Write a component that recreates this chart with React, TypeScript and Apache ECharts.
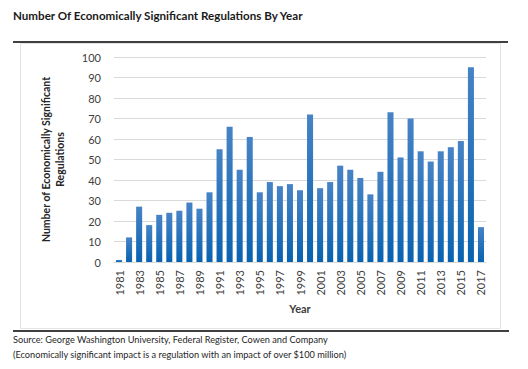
import React, { useEffect, useRef } from "react";
import * as echarts from "echarts";

const years: string[] = [
  "1981","1982","1983","1984","1985","1986","1987","1988","1989","1990",
  "1991","1992","1993","1994","1995","1996","1997","1998","1999","2000",
  "2001","2002","2003","2004","2005","2006","2007","2008","2009","2010",
  "2011","2012","2013","2014","2015","2016","2017",
];
const regulations: number[] = [
  1, 12, 27, 18, 23, 24, 25, 29, 26, 34,
  55, 66, 45, 61, 34, 39, 37, 38, 35, 72,
  36, 39, 47, 45, 41, 33, 44, 73, 51, 70,
  54, 49, 54, 56, 59, 95, 17,
];
const titleText = "Number Of Economically Significant Regulations By Year";
const yAxisTitle = "Number of Economically Significant\nRegulations";
const xAxisTitle = "Year";
const sourceLines: string[] = [
  "Source: George Washington University, Federal Register, Cowen and Company",
  "(Economically significant impact is a regulation with an impact of over $100 million)",
];

const FONT = "Lato, 'Open Sans', sans-serif";

export default function App() {
  const ref = useRef<HTMLDivElement>(null);
  useEffect(() => {
    if (!ref.current) return;
    const chart = echarts.init(ref.current, null, { renderer: "svg" });
    chart.setOption({
      animation: false,
      backgroundColor: "#ffffff",
      textStyle: { fontFamily: FONT },
      grid: { left: 114, right: 42, top: 57, height: 205, containLabel: false },
      xAxis: {
        type: "category",
        data: years,
        name: xAxisTitle,
        nameLocation: "middle",
        nameGap: 40,
        nameTextStyle: { fontFamily: FONT, fontWeight: "bold", fontSize: 11, color: "#404040" },
        axisLine: { show: true, lineStyle: { color: "#d9d9d9" } },
        axisTick: { show: false },
        axisLabel: {
          interval: 1,
          rotate: 90,
          fontFamily: FONT,
          fontSize: 11,
          color: "#404040",
          margin: 8,
        },
      },
      yAxis: {
        type: "value",
        min: 0,
        max: 100,
        interval: 10,
        name: yAxisTitle,
        nameLocation: "middle",
        nameRotate: 90,
        nameGap: 47,
        nameTextStyle: {
          fontFamily: FONT,
          fontWeight: "bold",
          fontSize: 10.5,
          color: "#262626",
          lineHeight: 14,
          align: "center",
        },
        axisLine: { show: false },
        axisTick: { show: false },
        splitLine: { lineStyle: { color: "#d9d9d9", width: 1 } },
        axisLabel: { fontFamily: FONT, fontSize: 11, color: "#404040", margin: 13 },
      },
      series: [
        {
          type: "bar",
          data: regulations,
          barWidth: "60%",
          itemStyle: {
            color: new echarts.graphic.LinearGradient(0, 0, 0, 1, [
              { offset: 0, color: "#4783c6" },
              { offset: 1, color: "#0862b0" },
            ]),
          },
        },
      ],
      graphic: [
        {
          type: "text",
          left: 13,
          top: 9,
          style: { text: titleText, fontFamily: FONT, fontWeight: "bold", fontSize: 11.6, fill: "#1a1a1a" },
        },
        {
          type: "rect",
          shape: { x: 20.5, y: 43.5, width: 480, height: 285 },
          style: { fill: "none", stroke: "#e3e3e3", lineWidth: 1 },
          z: -1,
        },
        {
          type: "line",
          shape: { x1: 13, y1: 42, x2: 508, y2: 42 },
          style: { stroke: "#000000", lineWidth: 1.5 },
        },
        {
          type: "line",
          shape: { x1: 13, y1: 331, x2: 509, y2: 331 },
          style: { stroke: "#000000", lineWidth: 1.5 },
        },
        {
          type: "text",
          left: 13,
          top: 335,
          style: { text: sourceLines[0], fontFamily: FONT, fontSize: 9.2, fill: "#262626" },
        },
        {
          type: "text",
          left: 13,
          top: 350,
          style: { text: sourceLines[1], fontFamily: FONT, fontSize: 9.2, fill: "#262626" },
        },
      ],
    });
    return () => chart.dispose();
  }, []);
  return <div ref={ref} style={{ width: 528, height: 369, position: "absolute", left: 0, top: 0 }} />;
}
